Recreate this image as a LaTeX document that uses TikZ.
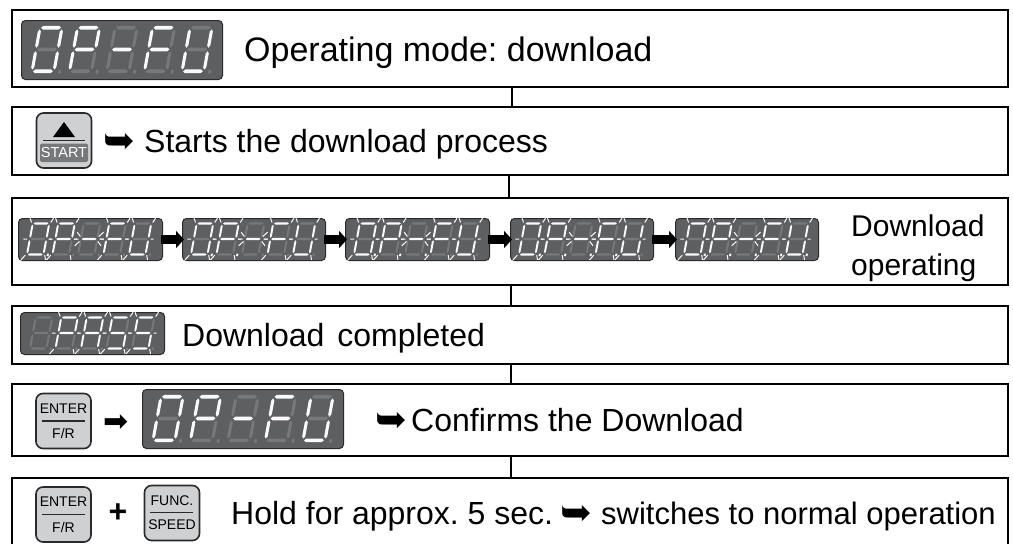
\documentclass[tikz,border=0pt]{standalone}
\usepackage{fontspec}
\setmainfont{Liberation Sans}
\newfontfamily\symfont{DejaVu Sans}
\usetikzlibrary{arrows.meta}
\definecolor{panel}{HTML}{5E5F61}
\definecolor{dimseg}{HTML}{77787A}
\definecolor{litseg}{HTML}{FAFAFA}
\definecolor{keyfill}{HTML}{CFD0D2}
\definecolor{keyline}{HTML}{2A2A2C}
\definecolor{startbar}{HTML}{77787A}
\newcommand\bigfont{\fontsize{32}{38}\selectfont\frenchspacing}
\newcommand\keyfont{\fontsize{14}{16}\selectfont}
\newcommand\curlyarrow{{\symfont\fontsize{38}{40}\selectfont ➥}}
\tikzset{
  stagebox/.style={draw=black,line width=2pt,fill=white,minimum width=996pt,inner sep=0pt,anchor=north west},
  link/.style={draw=black,line width=2pt},
  panelbox/.style={draw=keyline,line width=1pt,fill=panel,rounded corners=4pt,inner sep=0pt,anchor=north west},
  keybox/.style={draw=keyline,line width=1.6pt,fill=keyfill,rounded corners=7pt,inner sep=0pt,minimum width=55pt,minimum height=55pt},
  label/.style={inner sep=0pt,anchor=base west,font=\bigfont,text=black},
  keylabel/.style={inner sep=0pt,font=\keyfont,text=black},
  flow/.style={line width=9pt,black,-{Triangle[length=8pt,width=17pt]},shorten >=-2pt,shorten <=-2pt},
  ray/.style={draw=litseg,line width=1pt}
}
\makeatletter
\newcommand\segcol[2]{\in@{#1}{#2}\ifin@\def\thecol{litseg}\else\def\thecol{dimseg}\fi}
\newcommand\hseg[3]{\segcol{#1}{#3}\fill[\thecol] (.05,#2) -- (.14,#2-\hw) -- (.86,#2-\hw) -- (.95,#2) -- (.86,#2+\hw) -- (.14,#2+\hw) -- cycle;}
\newcommand\vseg[5]{\segcol{#1}{#5}\fill[\thecol] (#2,#3) -- (#2+\vw,#3+.05) -- (#2+\vw,#4-.05) -- (#2,#4) -- (#2-\vw,#4-.05) -- (#2-\vw,#3+.05) -- cycle;}
\newcommand\onedigit[2]{%
  \hseg{a}{0}{#1}\hseg{g}{.5}{#1}\hseg{d}{1}{#1}%
  \vseg{f}{0}{.04}{.46}{#1}\vseg{b}{1}{.04}{.46}{#1}%
  \vseg{e}{0}{.54}{.96}{#1}\vseg{c}{1}{.54}{.96}{#1}%
  \segcol{d}{#2}\fill[\thecol] (1.2,.97) -- (1.32,.97) -- (1.32,1.05) -- (1.2,1.05) -- cycle;%
  \in@{r}{#2}\ifin@
    \draw[ray] (-.22,-.17) -- (-.08,-.03) (1.08,-.03) -- (1.2,-.17) (-.4,.5) -- (-.16,.5) (1.14,.5) -- (1.32,.5)
      (-.3,1.17) -- (-.1,1.02) (1.08,1.02) -- (1.18,1.17);
  \fi
  \in@{m}{#2}\ifin@
    \draw[ray] (-.3,.28) -- (-.06,.42) (-.3,.72) -- (-.06,.58) (1.06,.42) -- (1.3,.28) (1.06,.58) -- (1.3,.72)
      (-.42,.5) -- (-.14,.5) (1.14,.5) -- (1.4,.5);
  \fi
}
\makeatother
% #1 name, #2 x, #3 y, #4 w, #5 h, #6 first-digit offset, #7 pitch, #8 digit width, #9 digit list
\newcommand\display[9]{%
  \node[panelbox,minimum width=#4pt,minimum height=#5pt] (#1) at (#2,#3) {};
  \pgfmathsetmacro\dsl{.04*#4}
  \pgfmathsetmacro\dht{.74*#5}
  \pgfmathsetmacro\dtop{#3+.13*#5}
  \foreach \segs/\flags [count=\i from 0] in {#9}{%
    \pgfmathsetmacro\dx{#2+#6+\dsl+\i*#7}
    \begin{scope}[shift={(\dx,\dtop)},x={(#8pt,0pt)},y={(-\dsl pt,-\dht pt)}]
      \edef\tmp{\noexpand\onedigit{\segs}{\flags}}\tmp
    \end{scope}
  }%
}
\begin{document}
\begin{tikzpicture}[x=1pt,y=-1pt]
\clip (0,0) rectangle (1013,544);
\fill[white] (0,0) rectangle (1013,544);
% stage boxes
\node[stagebox,minimum height=77pt] (b1) at (11,9) {};
\node[stagebox,minimum height=68pt] (b2) at (11,106) {};
\node[stagebox,minimum height=87pt] (b3) at (11,197) {};
\node[stagebox,minimum height=58pt] (b4) at (11,305) {};
\node[stagebox,minimum height=72pt] (b5) at (11,383) {};
\node[stagebox,minimum height=75pt] (b6) at (11,477) {};
\draw[link] ([xshift=1.5pt]b1.south) -- ([xshift=1.5pt]b2.north);
\draw[link] ([xshift=-1pt]b2.south) -- ([xshift=-1pt]b3.north);
\draw[link] ([xshift=1pt]b3.south) -- ([xshift=1pt]b4.north);
\draw[link] ([xshift=1pt]b4.south) -- ([xshift=1pt]b5.north);
\draw[link] ([xshift=1pt]b5.south) -- ([xshift=1pt]b6.north);
\def\hw{.042}\def\vw{.07}
% box 1
\display{d1}{21}{20}{201}{59}{11}{37.5}{22}{abcdef/x,abefg/x,g/x,afeg/x,bcdef/x}
\node[label,font={\bigfont\fontsize{34}{38}\selectfont}] (t1) at (244,61) {Operating mode: download};
% box 2
\node[keybox] (kstart) at (64,140.5) {};
\fill[black] (64,122) -- (75,137) -- (53,137) -- cycle;
\draw[keyline,line width=1.5pt] (43,140.5) -- (85,140.5);
\fill[startbar,rounded corners=2pt] (40,143.5) rectangle (88,162);
\node[keylabel,text=white,font={\fontsize{14.5}{16}\selectfont}] (tstart) at (64,153) {START};
\node[inner sep=0pt,anchor=base west] (a2) at (103,153) {\curlyarrow};
\node[label] (t2) at (144,152) {Starts the download process};
\def\hw{.035}\def\vw{.06}
% box 3
\display{f1}{18}{218}{144}{42}{9}{25.5}{16.5}{abcdef/dr,abefg/r,g/m,afeg/r,bcdef/r}
\display{f2}{182}{218}{143}{42}{9}{25.5}{16.5}{abcdef/dr,abefg/dr,g/m,afeg/r,bcdef/r}
\display{f3}{345}{218}{144}{42}{9}{25.5}{16.5}{abcdef/dr,abefg/dr,g/dm,afeg/r,bcdef/r}
\display{f4}{510}{218}{143}{42}{9}{25.5}{16.5}{abcdef/dr,abefg/dr,g/dm,afeg/dr,bcdef/r}
\display{f5}{675}{218}{143}{42}{9}{25.5}{16.5}{abcdef/dr,abefg/dr,g/dm,afeg/dr,bcdef/dr}
\draw[flow] (f1.east) -- (f2.west);
\draw[flow] (f2.east) -- (f3.west);
\draw[flow] (f3.east) -- (f4.west);
\draw[flow] (f4.east) -- (f5.west);
\node[label,font={\bigfont\fontsize{30}{36}\selectfont}] (t3a) at (851,236) {Download};
\node[label,font={\bigfont\fontsize{30}{36}\selectfont}] (t3b) at (851,275) {operating};
% box 4
\display{d4}{20}{312}{144}{42}{10}{25.5}{16.5}{x/x,abefg/r,abcefg/r,afgcd/r,afgcd/r}
\node[label] (t4) at (182,346) {Download\hspace{4pt} completed};
\def\hw{.042}\def\vw{.07}
% box 5
\node[keybox] (ke1) at (63.5,421) {};
\node[keylabel] (ke1a) at (63.5,409) {ENTER};
\node[keylabel] (ke1b) at (63.5,433) {F/R};
\draw[keyline,line width=1.5pt] (42,421) -- (85,421);
\node[inner sep=0pt,anchor=base west,font={\symfont\fontsize{30}{32}\selectfont}] (a5a) at (103,431) {➡};
\display{d5}{142}{389}{201}{59}{11}{37.5}{22}{abcdef/x,abefg/x,g/x,afeg/x,bcdef/x}
\node[inner sep=0pt,anchor=base west] (a5b) at (375,432) {\curlyarrow};
\node[label] (t5) at (411,431) {Confirms the Download};
% box 6
\node[keybox] (ke2) at (63.5,514.5) {};
\node[keylabel] (ke2a) at (63.5,502) {ENTER};
\node[keylabel] (ke2b) at (63.5,527) {F/R};
\draw[keyline,line width=1.5pt] (42,514.5) -- (85,514.5);
\node[inner sep=0pt,font={\bfseries\fontsize{32}{36}\selectfont}] (plus) at (118,513) {+};
\node[keybox] (kf) at (172,513) {};
\node[keylabel] (kfa) at (172,501) {FUNC.};
\node[keylabel] (kfb) at (172,525) {SPEED};
\draw[keyline,line width=1.5pt] (150,512.5) -- (193,512.5);
\node[label] (t6) at (231,524) {Hold for approx. 5 sec.};
\node[inner sep=0pt,anchor=base west] (a6) at (560,525) {\curlyarrow};
\node[label,font={\bigfont\fontsize{31}{38}\selectfont}] (t6b) at (601,524) {switches to normal operation};
\end{tikzpicture}
\end{document}
